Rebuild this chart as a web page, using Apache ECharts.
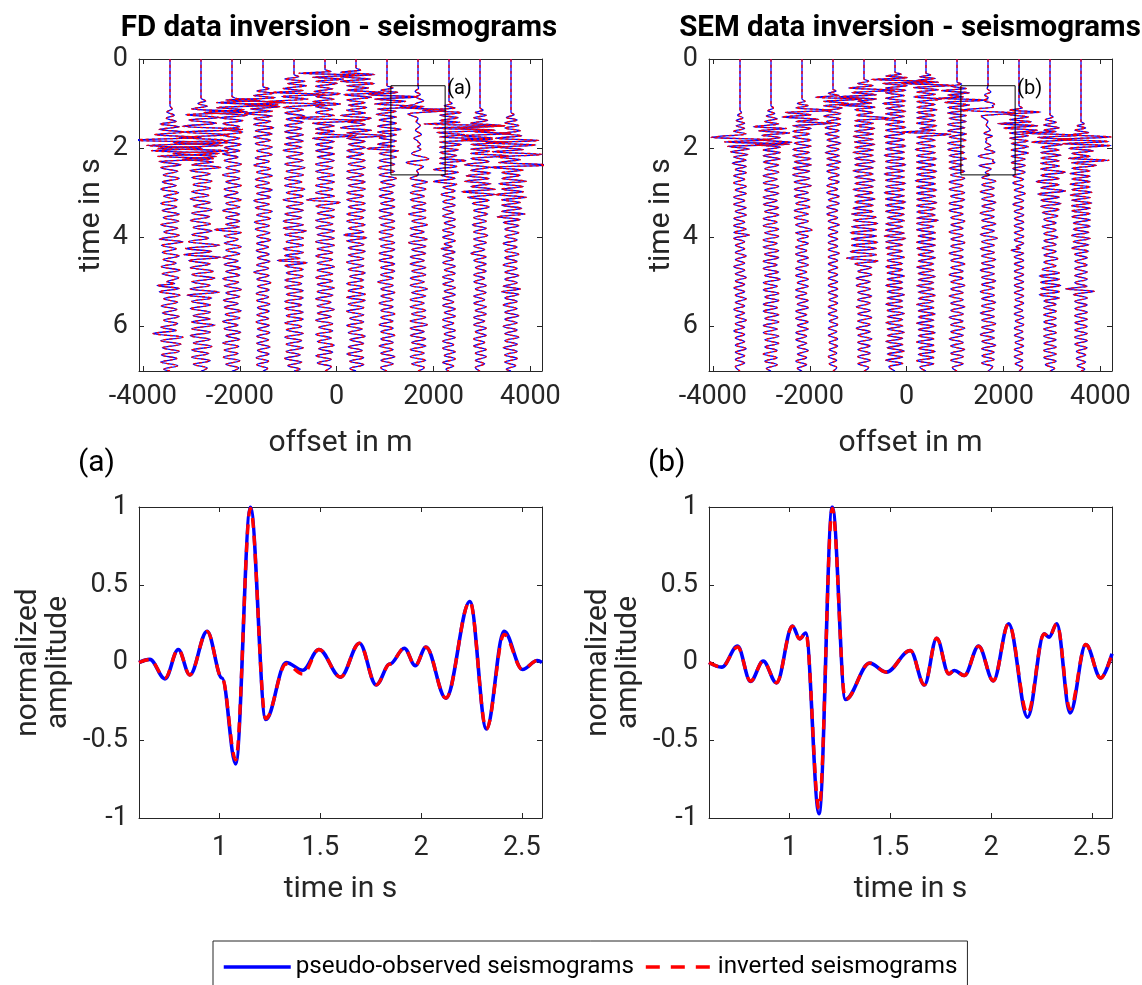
<!DOCTYPE html>
<html>
<head>
<meta charset="utf-8">
<script src="https://cdn.jsdelivr.net/npm/echarts@6/dist/echarts.min.js"></script>
<style>
  html, body { margin: 0; padding: 0; background: #fff; }
  #chart { width: 1142px; height: 985px; }
</style>
</head>
<body>
<div id="chart"></div>
<script>
// Receiver offsets (m) of the twelve traces in each shot gather
const offsets = [-3440, -2800, -2160, -1520, -880, -240, 400, 1040, 1680, 2320, 2960, 3600];
const offsetTicks = [-4000, -2000, 0, 2000, 4000];
const timeTicks = [0, 2, 4, 6];
const zoomTimeTicks = [1, 1.5, 2, 2.5];
const ampTicks = [-1, -0.5, 0, 0.5, 1];

// Window around the trace at 1680 m shown enlarged below
const boxOffsets = [1120, 2240];
const boxTimes = [0.6, 2.6];

// Enlarged trace (a), FD data: [time s, normalised amplitude] at peaks and troughs
const obsA = [[0.6,0],[0.654,0.02],[0.729,-0.105],[0.795,0.084],[0.852,-0.08],[0.938,0.2],[1.012,-0.1],[1.080,-0.652],[1.153,1.0],[1.229,-0.367],[1.33,0.0],[1.413,-0.05],[1.493,0.084],[1.600,-0.094],[1.694,0.124],[1.777,-0.144],[1.845,-0.01],[1.917,0.092],[1.971,-0.02],[2.024,0.099],[2.123,-0.229],[2.242,0.392],[2.324,-0.427],[2.412,0.2],[2.503,-0.045],[2.577,0.013],[2.6,0.0]];
const invA = [[0.6,0],[0.654,0.02],[0.729,-0.1],[0.795,0.084],[0.852,-0.08],[0.938,0.2],[1.012,-0.1],[1.080,-0.625],[1.153,0.99],[1.229,-0.36],[1.33,-0.01],[1.413,-0.075],[1.493,0.084],[1.600,-0.094],[1.694,0.124],[1.777,-0.144],[1.845,-0.01],[1.917,0.092],[1.971,-0.02],[2.024,0.099],[2.123,-0.229],[2.242,0.392],[2.324,-0.427],[2.412,0.18],[2.503,-0.045],[2.577,0.013],[2.6,0.0]];

// Enlarged trace (b), SEM data
const obsB = [[0.6,0],[0.663,-0.03],[0.742,0.105],[0.806,-0.122],[0.869,0.009],[0.935,-0.131],[1.014,0.234],[1.050,0.152],[1.080,0.19],[1.146,-0.973],[1.212,1.0],[1.277,-0.238],[1.397,-0.004],[1.480,-0.062],[1.599,0.077],[1.669,-0.144],[1.730,0.156],[1.790,-0.073],[1.818,-0.051],[1.867,-0.084],[1.938,0.105],[2.011,-0.118],[2.087,0.249],[2.181,-0.352],[2.263,0.184],[2.288,0.163],[2.326,0.249],[2.392,-0.324],[2.470,0.116],[2.544,-0.10],[2.6,0.056]];
const invB = [[0.6,0],[0.663,-0.03],[0.742,0.1],[0.806,-0.12],[0.869,0.009],[0.935,-0.131],[1.014,0.234],[1.050,0.152],[1.080,0.19],[1.146,-0.94],[1.212,0.99],[1.277,-0.238],[1.397,-0.004],[1.480,-0.062],[1.599,0.077],[1.669,-0.144],[1.730,0.156],[1.790,-0.073],[1.818,-0.051],[1.867,-0.084],[1.938,0.105],[2.011,-0.118],[2.087,0.249],[2.181,-0.33],[2.263,0.184],[2.288,0.163],[2.326,0.249],[2.392,-0.30],[2.470,0.116],[2.544,-0.10],[2.6,0.056]];

// FD gather: [time s, amplitude in trace spacings] at peaks and troughs
const fd1 = [[0,0],[1.05,0],[1.12,0.07],[1.19,-0.1],[1.26,0.14],[1.33,-0.12],[1.40,0.2],[1.46,-0.32],[1.52,0.3],[1.58,-0.35],[1.64,0.45],[1.70,-0.5],[1.76,1.0],[1.82,-1.3],[1.88,1.9],[1.94,-0.75],[2.00,1.05],[2.06,-0.6],[2.12,1.6],[2.18,-0.4],[2.24,1.4],[2.30,-0.35],[2.37,0.35],[2.44,-0.3],[2.52,0.25],[2.60,-0.22],[2.68,0.3],[2.76,-0.25],[2.84,0.2],[2.92,-0.3],[3.00,0.28],[3.08,-0.2],[3.16,0.25],[3.24,-0.3],[3.32,0.22],[3.40,-0.25],[3.48,0.3],[3.56,-0.22],[3.64,0.28],[3.72,-0.3],[3.80,0.25],[3.88,-0.2],[3.96,0.3],[4.04,-0.35],[4.10,0.42],[4.18,-0.28],[4.26,0.2],[4.34,-0.25],[4.42,0.3],[4.50,-0.22],[4.58,0.2],[4.66,-0.28],[4.74,0.32],[4.82,-0.25],[4.91,0.28],[5.00,-0.1],[5.04,0.15],[5.08,-0.42],[5.15,0.3],[5.22,-0.35],[5.30,0.32],[5.38,-0.2],[5.46,0.25],[5.54,-0.28],[5.62,0.22],[5.70,-0.25],[5.78,0.3],[5.86,-0.2],[5.94,0.25],[6.02,-0.3],[6.09,0.2],[6.16,-0.55],[6.24,0.42],[6.32,-0.3],[6.40,0.35],[6.48,-0.25],[6.56,0.3],[6.64,-0.28],[6.72,0.22],[6.80,-0.3],[6.88,0.25],[6.96,-0.2],[7.0,0]];
const fd2 = [[0,0],[0.88,0],[0.94,0.15],[1.00,-0.1],[1.06,0.2],[1.12,-0.3],[1.19,1.5],[1.25,-0.5],[1.31,0.6],[1.37,-0.4],[1.44,0.5],[1.51,-0.6],[1.58,1.34],[1.64,-0.6],[1.70,0.9],[1.76,-0.7],[1.82,0.8],[1.88,-0.9],[1.94,0.7],[2.00,-1.4],[2.06,0.9],[2.12,-0.9],[2.19,0.5],[2.25,-0.6],[2.31,0.4],[2.37,-0.3],[2.43,0.65],[2.50,-0.35],[2.58,0.3],[2.66,-0.3],[2.74,0.35],[2.82,-0.25],[2.90,0.3],[2.98,-0.3],[3.06,0.25],[3.14,-0.35],[3.22,0.3],[3.30,-0.25],[3.38,0.35],[3.46,-0.3],[3.54,0.28],[3.62,-0.35],[3.70,0.3],[3.78,-0.25],[3.86,0.35],[3.94,-0.3],[4.02,0.25],[4.10,-0.4],[4.18,0.6],[4.25,-0.5],[4.32,0.35],[4.39,-0.55],[4.45,0.64],[4.52,-0.4],[4.60,0.3],[4.68,-0.35],[4.76,0.4],[4.84,-0.3],[4.92,0.45],[5.00,-0.3],[5.08,0.3],[5.16,-0.35],[5.23,0.6],[5.30,-0.45],[5.36,0.35],[5.44,-0.3],[5.52,0.3],[5.60,-0.35],[5.68,0.3],[5.76,-0.25],[5.83,0.3],[5.90,-0.3],[5.97,0.45],[6.05,-0.3],[6.13,0.3],[6.21,-0.35],[6.29,0.3],[6.37,-0.25],[6.45,0.35],[6.53,-0.3],[6.61,0.25],[6.69,-0.3],[6.77,0.3],[6.85,-0.25],[6.93,0.2],[7.0,0]];
const fd3 = [[0,0],[0.84,0],[0.88,0.1],[0.93,0.9],[0.98,-0.5],[1.03,1.5],[1.09,-0.5],[1.14,0.4],[1.20,-0.9],[1.26,0.5],[1.32,-0.4],[1.38,0.35],[1.45,-0.3],[1.52,0.25],[1.58,-0.3],[1.64,0.35],[1.71,-0.3],[1.78,0.25],[1.85,-0.25],[1.92,0.3],[1.99,-0.25],[2.06,0.25],[2.13,-0.3],[2.20,0.2],[2.28,-0.25],[2.36,0.3],[2.44,-0.2],[2.52,0.25],[2.60,-0.3],[2.68,0.25],[2.76,-0.2],[2.84,0.3],[2.92,-0.25],[3.00,0.2],[3.08,-0.25],[3.16,0.3],[3.24,-0.2],[3.32,0.25],[3.40,-0.3],[3.48,0.25],[3.56,-0.2],[3.64,0.25],[3.71,-0.2],[3.77,0.24],[3.83,-0.57],[3.89,0.3],[3.97,-0.25],[4.05,0.2],[4.13,-0.25],[4.21,0.3],[4.29,-0.2],[4.37,0.25],[4.45,-0.3],[4.53,0.2],[4.61,-0.25],[4.69,0.28],[4.77,-0.2],[4.85,0.25],[4.93,-0.3],[5.01,0.22],[5.09,-0.25],[5.17,0.3],[5.25,-0.2],[5.33,0.25],[5.41,-0.28],[5.49,0.2],[5.57,-0.25],[5.65,0.3],[5.73,-0.22],[5.81,0.25],[5.89,-0.3],[5.97,0.2],[6.05,-0.25],[6.13,0.28],[6.21,-0.2],[6.29,0.25],[6.37,-0.3],[6.45,0.22],[6.53,-0.25],[6.61,0.2],[6.69,-0.28],[6.77,0.25],[6.85,-0.2],[6.93,0.22],[7.0,0]];
const fd4 = [[0,0],[0.62,0],[0.67,0.2],[0.72,-0.2],[0.77,0.35],[0.82,-0.3],[0.87,0.4],[0.92,-1.2],[0.97,0.7],[1.02,-0.6],[1.07,0.55],[1.12,-0.4],[1.17,0.3],[1.22,-0.6],[1.28,0.3],[1.34,-0.3],[1.40,0.25],[1.47,-0.3],[1.54,0.35],[1.61,-0.25],[1.68,0.3],[1.75,-0.3],[1.82,0.25],[1.90,-0.25],[1.98,0.3],[2.06,-0.2],[2.14,0.3],[2.22,-0.25],[2.30,0.2],[2.38,-0.3],[2.46,0.25],[2.54,-0.2],[2.62,0.3],[2.70,-0.25],[2.78,0.2],[2.86,-0.25],[2.94,0.3],[3.02,-0.2],[3.10,0.25],[3.18,-0.3],[3.26,0.2],[3.34,-0.25],[3.42,0.3],[3.50,-0.2],[3.58,0.25],[3.66,-0.28],[3.74,0.2],[3.82,-0.25],[3.90,0.22],[3.98,-0.2],[4.06,0.25],[4.14,-0.2],[4.22,0.18],[4.30,-0.22],[4.38,0.2],[4.46,-0.18],[4.54,0.22],[4.62,-0.2],[4.70,0.18],[4.78,-0.3],[4.86,0.2],[4.94,-0.2],[5.02,0.25],[5.10,-0.18],[5.18,0.2],[5.26,-0.22],[5.34,0.18],[5.42,-0.2],[5.50,0.22],[5.58,-0.18],[5.66,0.2],[5.74,-0.2],[5.82,0.18],[5.90,-0.22],[5.98,0.2],[6.06,-0.18],[6.14,0.22],[6.22,-0.2],[6.30,0.18],[6.38,-0.2],[6.46,0.22],[6.54,-0.18],[6.62,0.2],[6.70,-0.22],[6.78,0.18],[6.86,-0.2],[6.94,0.15],[7.0,0]];
const fd5 = [[0,0],[0.35,0],[0.40,0.15],[0.45,-0.3],[0.50,0.35],[0.55,-0.2],[0.60,0.4],[0.66,-0.35],[0.71,0.3],[0.75,-0.7],[0.79,1.0],[0.84,-0.4],[0.90,0.45],[0.96,-0.9],[1.02,1.0],[1.08,-0.35],[1.14,0.3],[1.21,-0.3],[1.28,0.35],[1.35,-0.25],[1.42,0.3],[1.49,-0.3],[1.56,0.25],[1.63,-0.3],[1.70,0.3],[1.77,-0.25],[1.84,0.3],[1.91,-0.3],[1.98,0.25],[2.05,-0.35],[2.12,0.3],[2.20,-0.25],[2.28,0.3],[2.36,-0.3],[2.44,0.35],[2.52,-0.25],[2.60,0.3],[2.68,-0.3],[2.76,0.25],[2.84,-0.3],[2.92,0.35],[3.00,-0.25],[3.08,0.3],[3.16,-0.35],[3.24,0.3],[3.32,-0.25],[3.40,0.3],[3.48,-0.3],[3.56,0.25],[3.64,-0.35],[3.72,0.3],[3.80,-0.35],[3.86,0.4],[3.94,-0.3],[4.02,0.3],[4.10,-0.25],[4.18,0.3],[4.26,-0.35],[4.34,0.3],[4.41,-0.3],[4.47,0.2],[4.52,-0.54],[4.57,0.43],[4.64,-0.3],[4.72,0.3],[4.80,-0.25],[4.88,0.3],[4.96,-0.3],[5.04,0.25],[5.12,-0.3],[5.20,0.3],[5.28,-0.25],[5.36,0.3],[5.44,-0.3],[5.52,0.25],[5.60,-0.3],[5.68,0.3],[5.76,-0.25],[5.84,0.3],[5.92,-0.3],[6.00,0.25],[6.08,-0.25],[6.16,0.3],[6.24,-0.3],[6.32,0.25],[6.40,-0.25],[6.48,0.3],[6.56,-0.25],[6.64,0.2],[6.72,-0.3],[6.80,0.25],[6.88,-0.2],[6.96,0.2],[7.0,0]];
const fd6 = [[0,0],[0.24,0],[0.28,0.2],[0.32,-0.84],[0.36,1.1],[0.41,-0.4],[0.45,0.6],[0.50,-0.3],[0.55,0.4],[0.61,-0.3],[0.67,0.25],[0.73,-0.35],[0.78,0.5],[0.84,-0.3],[0.90,0.3],[0.96,-0.4],[1.01,0.5],[1.07,-0.3],[1.13,0.25],[1.20,-0.3],[1.27,0.3],[1.33,-0.95],[1.38,1.3],[1.44,-0.4],[1.50,0.3],[1.57,-0.3],[1.62,0.3],[1.67,-0.3],[1.72,1.0],[1.78,-0.4],[1.85,0.3],[1.92,-0.3],[1.99,0.25],[2.06,-0.3],[2.13,0.3],[2.20,-0.25],[2.28,0.3],[2.36,-0.3],[2.44,0.25],[2.52,-0.3],[2.60,0.3],[2.68,-0.25],[2.76,0.3],[2.84,-0.3],[2.92,0.25],[3.00,-0.3],[3.08,0.3],[3.16,-0.6],[3.22,0.5],[3.30,-0.3],[3.38,0.3],[3.46,-0.25],[3.54,0.3],[3.62,-0.3],[3.70,0.25],[3.78,-0.3],[3.86,0.3],[3.94,-0.25],[4.02,0.3],[4.10,-0.3],[4.18,0.3],[4.26,-0.25],[4.34,0.25],[4.42,-0.3],[4.50,0.25],[4.58,-0.25],[4.66,0.3],[4.74,-0.25],[4.82,0.25],[4.90,-0.3],[4.98,0.25],[5.06,-0.25],[5.14,0.3],[5.22,-0.25],[5.30,0.25],[5.38,-0.3],[5.46,0.2],[5.54,-0.25],[5.62,0.3],[5.70,-0.25],[5.78,0.2],[5.86,-0.3],[5.94,0.25],[6.02,-0.2],[6.10,0.25],[6.18,-0.3],[6.26,0.2],[6.34,-0.25],[6.42,0.3],[6.50,-0.2],[6.58,0.25],[6.66,-0.3],[6.74,0.2],[6.82,-0.25],[6.90,0.2],[7.0,0]];
const fd7 = [[0,0],[0.20,0],[0.25,0.15],[0.30,-0.5],[0.35,0.6],[0.40,-0.5],[0.45,0.46],[0.50,-0.5],[0.55,0.6],[0.60,-0.3],[0.65,0.4],[0.70,-0.3],[0.75,0.9],[0.80,-0.4],[0.86,0.5],[0.92,-0.3],[0.98,0.3],[1.04,-0.25],[1.09,0.35],[1.15,-0.3],[1.21,0.3],[1.27,-0.5],[1.33,0.5],[1.40,-0.3],[1.47,0.3],[1.54,-0.5],[1.60,0.5],[1.66,-0.3],[1.72,0.95],[1.78,-0.3],[1.85,0.3],[1.92,-0.25],[1.99,0.3],[2.06,-0.3],[2.13,0.25],[2.20,-0.3],[2.28,0.3],[2.36,-0.25],[2.44,0.3],[2.52,-0.3],[2.60,0.25],[2.68,-0.3],[2.76,0.3],[2.84,-0.25],[2.92,0.3],[3.00,-0.3],[3.08,0.25],[3.16,-0.3],[3.24,0.3],[3.32,-0.25],[3.40,0.3],[3.48,-0.3],[3.56,0.25],[3.64,-0.3],[3.72,0.3],[3.80,-0.25],[3.88,0.25],[3.95,-0.4],[4.01,0.35],[4.08,-0.3],[4.16,0.25],[4.24,-0.25],[4.32,0.3],[4.40,-0.25],[4.48,0.25],[4.56,-0.3],[4.64,0.25],[4.72,-0.25],[4.80,0.3],[4.88,-0.2],[4.96,0.25],[5.04,-0.3],[5.12,0.25],[5.20,-0.25],[5.28,0.3],[5.35,-0.3],[5.42,0.3],[5.50,-0.25],[5.58,0.25],[5.66,-0.3],[5.74,0.25],[5.82,-0.2],[5.90,0.25],[5.98,-0.3],[6.06,0.2],[6.14,-0.25],[6.22,0.3],[6.30,-0.2],[6.38,0.25],[6.46,-0.25],[6.54,0.2],[6.62,-0.3],[6.70,0.25],[6.78,-0.2],[6.86,0.25],[6.94,-0.2],[7.0,0]];
const fd8 = [[0,0],[0.60,0],[0.65,0.2],[0.70,-0.2],[0.75,0.35],[0.80,-0.6],[0.85,1.0],[0.90,-0.4],[0.95,0.6],[1.01,-0.4],[1.07,1.2],[1.12,-0.3],[1.18,0.3],[1.24,-0.35],[1.30,0.3],[1.37,-0.25],[1.44,0.3],[1.51,-0.3],[1.58,0.45],[1.64,-0.3],[1.70,0.3],[1.77,-0.25],[1.84,0.3],[1.91,-0.3],[1.96,0.25],[2.01,-0.65],[2.06,0.37],[2.12,-0.25],[2.20,0.3],[2.28,-0.25],[2.36,0.25],[2.44,-0.3],[2.52,0.25],[2.60,-0.25],[2.68,0.3],[2.76,-0.2],[2.84,0.25],[2.92,-0.25],[3.00,0.2],[3.08,-0.25],[3.16,0.25],[3.24,-0.2],[3.32,0.25],[3.40,-0.25],[3.48,0.2],[3.56,-0.25],[3.64,0.25],[3.72,-0.2],[3.80,0.25],[3.88,-0.25],[3.96,0.2],[4.04,-0.25],[4.12,0.25],[4.20,-0.2],[4.28,0.25],[4.36,-0.25],[4.44,0.2],[4.52,-0.25],[4.60,0.25],[4.68,-0.2],[4.76,0.25],[4.84,-0.2],[4.92,0.2],[5.00,-0.3],[5.08,0.2],[5.16,-0.2],[5.24,0.25],[5.32,-0.2],[5.40,0.2],[5.48,-0.25],[5.56,0.2],[5.64,-0.2],[5.72,0.25],[5.80,-0.2],[5.88,0.2],[5.96,-0.25],[6.04,0.2],[6.12,-0.2],[6.20,0.25],[6.28,-0.2],[6.36,0.2],[6.44,-0.25],[6.52,0.2],[6.60,-0.2],[6.68,0.25],[6.76,-0.2],[6.84,0.2],[6.92,-0.2],[7.0,0]];
const fd9Tail = [[2.68,-0.25],[2.76,0.3],[2.84,-0.2],[2.92,0.25],[3.00,-0.25],[3.08,0.2],[3.16,-0.25],[3.24,0.25],[3.32,-0.2],[3.40,0.25],[3.48,-0.3],[3.56,0.25],[3.64,-0.2],[3.72,0.3],[3.80,-0.25],[3.88,0.2],[3.96,-0.25],[4.04,0.3],[4.12,-0.3],[4.20,0.25],[4.28,-0.2],[4.36,0.25],[4.44,-0.25],[4.52,0.2],[4.60,-0.25],[4.68,0.25],[4.76,-0.2],[4.84,0.25],[4.92,-0.25],[5.00,0.2],[5.08,-0.25],[5.16,0.3],[5.24,-0.2],[5.32,0.25],[5.40,-0.25],[5.48,0.2],[5.56,-0.25],[5.64,0.25],[5.72,-0.2],[5.80,0.25],[5.88,-0.25],[5.96,0.3],[6.04,-0.25],[6.12,0.2],[6.20,-0.25],[6.28,0.25],[6.36,-0.2],[6.44,0.25],[6.52,-0.25],[6.60,0.2],[6.68,-0.25],[6.76,0.25],[6.84,-0.2],[6.92,0.2],[7.0,0]];
const fd10 = [[0,0],[0.95,0],[1.00,0.1],[1.05,-0.15],[1.10,0.2],[1.15,-0.85],[1.20,0.4],[1.26,-0.3],[1.32,0.3],[1.38,-0.3],[1.42,0.35],[1.46,-0.8],[1.50,1.8],[1.55,-0.5],[1.60,1.5],[1.65,-0.4],[1.70,0.5],[1.75,-0.3],[1.80,1.4],[1.86,-0.3],[1.92,0.4],[1.98,-0.3],[2.04,0.3],[2.10,-0.3],[2.17,0.25],[2.23,-0.3],[2.28,0.55],[2.34,-0.3],[2.41,0.25],[2.48,-0.5],[2.54,0.3],[2.61,-0.25],[2.68,0.2],[2.75,-0.5],[2.81,0.25],[2.88,-0.2],[2.96,0.2],[3.04,-0.25],[3.12,0.2],[3.20,-0.2],[3.28,0.2],[3.36,-0.2],[3.44,0.15],[3.52,-0.2],[3.60,0.2],[3.68,-0.15],[3.76,0.2],[3.84,-0.2],[3.92,0.15],[4.00,-0.2],[4.08,0.2],[4.15,-0.15],[4.21,0.1],[4.26,-0.25],[4.33,0.2],[4.41,-0.2],[4.49,0.15],[4.57,-0.2],[4.65,0.2],[4.73,-0.15],[4.81,0.2],[4.89,-0.2],[4.97,0.15],[5.05,-0.2],[5.13,0.2],[5.21,-0.15],[5.29,0.2],[5.37,-0.2],[5.45,0.15],[5.53,-0.2],[5.61,0.2],[5.69,-0.15],[5.77,0.2],[5.85,-0.2],[5.93,0.15],[6.01,-0.2],[6.09,0.2],[6.17,-0.15],[6.25,0.2],[6.33,-0.2],[6.41,0.15],[6.49,-0.2],[6.57,0.2],[6.65,-0.15],[6.73,0.2],[6.81,-0.2],[6.89,0.15],[6.96,-0.1],[7.0,0]];
const fd11 = [[0,0],[1.10,0],[1.15,0.1],[1.20,-0.15],[1.26,0.2],[1.32,-0.2],[1.38,0.25],[1.44,-0.3],[1.50,0.8],[1.55,-0.7],[1.60,0.4],[1.63,-0.2],[1.67,1.0],[1.72,-0.6],[1.77,0.4],[1.82,-0.6],[1.87,0.9],[1.92,-0.3],[1.97,0.8],[2.02,-0.3],[2.07,0.3],[2.12,-0.3],[2.17,0.9],[2.23,-0.3],[2.30,0.3],[2.37,-0.5],[2.43,0.3],[2.50,-0.3],[2.56,0.35],[2.62,-0.45],[2.68,0.3],[2.74,-0.5],[2.80,0.35],[2.86,-0.3],[2.92,0.5],[2.98,-0.6],[3.04,0.5],[3.10,-0.4],[3.17,0.3],[3.24,-0.25],[3.32,0.3],[3.40,-0.2],[3.48,0.25],[3.56,-0.2],[3.64,0.2],[3.72,-0.25],[3.80,0.2],[3.88,-0.2],[3.96,0.25],[4.04,-0.2],[4.12,0.2],[4.20,-0.2],[4.28,0.15],[4.36,-0.3],[4.44,0.2],[4.52,-0.2],[4.60,0.2],[4.68,-0.15],[4.76,0.2],[4.84,-0.2],[4.92,0.15],[5.00,-0.2],[5.08,0.2],[5.16,-0.15],[5.24,0.2],[5.32,-0.2],[5.40,0.15],[5.48,-0.2],[5.56,0.2],[5.64,-0.15],[5.72,0.2],[5.80,-0.2],[5.88,0.15],[5.96,-0.2],[6.04,0.2],[6.12,-0.15],[6.20,0.2],[6.28,-0.2],[6.36,0.15],[6.44,-0.2],[6.52,0.2],[6.60,-0.15],[6.68,0.2],[6.76,-0.15],[6.84,0.15],[6.92,-0.15],[7.0,0]];
const fd12 = [[0,0],[1.20,0],[1.25,0.1],[1.31,-0.15],[1.37,0.2],[1.43,-0.2],[1.49,0.25],[1.55,-0.2],[1.61,0.3],[1.67,-0.3],[1.72,0.35],[1.78,-0.5],[1.83,0.9],[1.88,-0.8],[1.93,0.8],[1.98,-0.4],[2.03,0.4],[2.08,-0.6],[2.14,1.0],[2.20,-0.4],[2.26,0.3],[2.32,-0.4],[2.38,1.3],[2.43,-0.7],[2.49,0.4],[2.55,-0.3],[2.61,0.3],[2.68,-0.3],[2.74,0.5],[2.80,-0.4],[2.86,0.4],[2.92,-0.3],[2.98,0.4],[3.04,-0.5],[3.10,0.5],[3.16,-0.3],[3.22,0.3],[3.28,-0.3],[3.35,0.35],[3.42,-0.3],[3.48,0.45],[3.54,-0.45],[3.60,0.3],[3.67,-0.25],[3.74,0.25],[3.82,-0.2],[3.90,0.25],[3.98,-0.2],[4.06,0.2],[4.14,-0.25],[4.22,0.2],[4.30,-0.2],[4.38,0.25],[4.46,-0.2],[4.54,0.2],[4.62,-0.25],[4.70,0.2],[4.78,-0.2],[4.86,0.25],[4.94,-0.2],[5.02,0.2],[5.10,-0.25],[5.16,0.3],[5.22,-0.3],[5.28,0.25],[5.36,-0.2],[5.44,0.2],[5.52,-0.25],[5.60,0.2],[5.68,-0.2],[5.76,0.25],[5.84,-0.2],[5.92,0.2],[6.00,-0.25],[6.08,0.2],[6.16,-0.2],[6.24,0.25],[6.32,-0.2],[6.40,0.2],[6.48,-0.25],[6.56,0.2],[6.64,-0.2],[6.72,0.2],[6.80,-0.2],[6.88,0.15],[6.96,-0.15],[7.0,0]];

// SEM gather
const sem1 = [[0,0],[1.15,0],[1.20,0.05],[1.26,-0.08],[1.32,0.1],[1.38,-0.12],[1.44,0.15],[1.50,-0.12],[1.56,0.15],[1.62,-0.2],[1.68,0.2],[1.76,-0.93],[1.81,1.0],[1.86,-0.5],[1.91,1.6],[1.96,-0.4],[2.02,0.3],[2.08,-0.3],[2.14,0.25],[2.20,-0.2],[2.27,0.2],[2.34,-0.25],[2.41,0.2],[2.48,-0.15],[2.55,0.2],[2.62,-0.2],[2.70,0.15],[2.78,-0.2],[2.86,0.2],[2.94,-0.15],[3.02,0.2],[3.10,-0.2],[3.18,0.15],[3.26,-0.2],[3.34,0.2],[3.42,-0.15],[3.50,0.2],[3.58,-0.2],[3.66,0.15],[3.74,-0.2],[3.82,0.2],[3.89,-0.2],[3.95,0.3],[4.02,-0.2],[4.10,0.15],[4.18,-0.15],[4.26,0.15],[4.34,-0.15],[4.42,0.2],[4.50,-0.15],[4.58,0.15],[4.66,-0.2],[4.74,0.15],[4.82,-0.15],[4.90,0.2],[4.98,-0.15],[5.06,0.15],[5.14,-0.2],[5.22,0.15],[5.30,-0.15],[5.38,0.2],[5.46,-0.15],[5.54,0.15],[5.62,-0.2],[5.70,0.15],[5.78,-0.15],[5.86,0.2],[5.94,-0.15],[6.02,0.15],[6.10,-0.2],[6.18,0.15],[6.26,-0.15],[6.34,0.15],[6.42,-0.15],[6.50,0.2],[6.58,-0.15],[6.66,0.15],[6.74,-0.15],[6.82,0.15],[6.90,-0.15],[7.0,0]];
const sem2 = [[0,0],[1.05,0],[1.10,0.08],[1.16,-0.1],[1.22,0.12],[1.28,-0.15],[1.34,0.2],[1.40,-0.2],[1.46,0.25],[1.52,-0.57],[1.56,0.5],[1.61,-0.4],[1.66,0.6],[1.71,-0.3],[1.76,0.3],[1.82,-0.3],[1.87,0.67],[1.92,-0.5],[1.98,0.3],[2.04,-0.25],[2.10,0.3],[2.17,-0.25],[2.24,0.3],[2.31,-0.25],[2.38,0.25],[2.46,-0.2],[2.54,0.25],[2.62,-0.25],[2.70,0.2],[2.78,-0.25],[2.86,0.25],[2.94,-0.2],[3.02,0.25],[3.10,-0.25],[3.18,0.2],[3.26,-0.25],[3.34,0.25],[3.42,-0.2],[3.50,0.25],[3.58,-0.25],[3.66,0.2],[3.74,-0.25],[3.82,0.25],[3.90,-0.2],[3.98,0.25],[4.06,-0.25],[4.14,0.2],[4.22,-0.25],[4.30,0.25],[4.38,-0.2],[4.46,0.25],[4.54,-0.25],[4.62,0.2],[4.70,-0.25],[4.78,0.25],[4.86,-0.2],[4.94,0.3],[5.02,-0.25],[5.10,0.2],[5.18,-0.25],[5.26,0.25],[5.34,-0.2],[5.42,0.25],[5.50,-0.25],[5.58,0.2],[5.66,-0.25],[5.74,0.25],[5.82,-0.2],[5.90,0.25],[5.98,-0.25],[6.06,0.2],[6.14,-0.25],[6.22,0.25],[6.30,-0.2],[6.38,0.25],[6.46,-0.2],[6.54,0.2],[6.62,-0.25],[6.70,0.2],[6.78,-0.2],[6.86,0.2],[6.94,-0.15],[7.0,0]];
const sem3 = [[0,0],[0.90,0],[0.95,0.1],[1.00,-0.15],[1.05,0.2],[1.10,-0.2],[1.15,0.97],[1.20,-0.54],[1.25,0.3],[1.30,-0.65],[1.35,0.54],[1.40,-0.2],[1.44,0.97],[1.50,-0.3],[1.56,0.3],[1.62,-0.3],[1.68,0.25],[1.75,-0.3],[1.82,0.3],[1.89,-0.25],[1.96,0.3],[2.03,-0.3],[2.10,0.25],[2.17,-0.3],[2.24,0.3],[2.31,-0.25],[2.38,0.3],[2.45,-0.3],[2.52,0.25],[2.60,-0.3],[2.68,0.25],[2.76,-0.25],[2.84,0.3],[2.92,-0.25],[3.00,0.2],[3.08,-0.25],[3.16,0.25],[3.24,-0.2],[3.32,0.25],[3.40,-0.25],[3.48,0.2],[3.56,-0.25],[3.64,0.2],[3.72,-0.2],[3.84,0.32],[3.90,-0.2],[3.98,0.2],[4.06,-0.15],[4.14,0.2],[4.22,-0.2],[4.30,0.15],[4.38,-0.2],[4.46,0.2],[4.54,-0.15],[4.62,0.2],[4.70,-0.2],[4.78,0.15],[4.86,-0.2],[4.94,0.2],[5.02,-0.15],[5.10,0.2],[5.18,-0.2],[5.26,0.15],[5.34,-0.2],[5.42,0.2],[5.50,-0.15],[5.58,0.2],[5.66,-0.2],[5.74,0.15],[5.82,-0.2],[5.90,0.2],[5.98,-0.15],[6.06,0.2],[6.14,-0.2],[6.22,0.15],[6.30,-0.2],[6.38,0.15],[6.46,-0.15],[6.54,0.2],[6.62,-0.15],[6.70,0.15],[6.78,-0.2],[6.86,0.15],[6.94,-0.15],[7.0,0]];
const sem4 = [[0,0],[0.68,0],[0.72,0.1],[0.77,-0.15],[0.82,0.2],[0.86,-0.57],[0.90,0.94],[0.95,-0.3],[1.00,0.5],[1.05,-0.3],[1.10,0.3],[1.16,-0.25],[1.22,0.25],[1.28,-0.3],[1.34,0.25],[1.40,-0.2],[1.47,0.25],[1.54,-0.25],[1.61,0.2],[1.68,-0.25],[1.75,0.2],[1.82,-0.2],[1.89,0.25],[1.96,-0.2],[2.03,0.2],[2.10,-0.25],[2.17,0.2],[2.24,-0.2],[2.31,0.25],[2.38,-0.2],[2.45,0.2],[2.52,-0.2],[2.60,0.2],[2.68,-0.15],[2.76,0.2],[2.84,-0.2],[2.92,0.15],[3.00,-0.2],[3.08,0.2],[3.16,-0.15],[3.24,0.2],[3.32,-0.2],[3.40,0.15],[3.48,-0.2],[3.56,0.15],[3.64,-0.15],[3.72,0.2],[3.80,-0.15],[3.88,0.15],[3.96,-0.15],[4.04,0.15],[4.12,-0.15],[4.20,0.15],[4.28,-0.15],[4.36,0.2],[4.44,-0.15],[4.52,0.15],[4.60,-0.15],[4.68,0.15],[4.76,-0.15],[4.84,0.15],[4.92,-0.15],[5.00,0.15],[5.08,-0.15],[5.16,0.15],[5.24,-0.15],[5.32,0.15],[5.40,-0.12],[5.48,0.15],[5.56,-0.15],[5.64,0.12],[5.72,-0.15],[5.80,0.15],[5.88,-0.12],[5.96,0.15],[6.04,-0.15],[6.12,0.12],[6.20,-0.15],[6.28,0.15],[6.36,-0.12],[6.44,0.15],[6.52,-0.12],[6.60,0.12],[6.68,-0.15],[6.76,0.12],[6.84,-0.12],[6.92,0.12],[7.0,0]];
const sem5 = [[0,0],[0.45,0],[0.50,0.15],[0.55,-0.2],[0.60,0.3],[0.65,-0.5],[0.70,1.0],[0.75,-0.4],[0.80,0.4],[0.85,-0.8],[0.90,0.4],[0.95,-0.2],[0.99,0.25],[1.03,-0.8],[1.08,0.35],[1.14,-0.3],[1.20,0.3],[1.26,-0.25],[1.33,0.8],[1.38,-0.3],[1.44,0.3],[1.50,-0.3],[1.56,0.35],[1.62,-0.3],[1.68,0.3],[1.74,-0.35],[1.80,0.3],[1.86,-0.3],[1.92,0.35],[1.98,-0.3],[2.04,0.3],[2.10,-0.35],[2.16,0.3],[2.23,-0.3],[2.30,0.35],[2.37,-0.3],[2.44,0.3],[2.51,-0.35],[2.58,0.3],[2.65,-0.3],[2.72,0.35],[2.79,-0.3],[2.86,0.3],[2.93,-0.35],[3.00,0.3],[3.07,-0.3],[3.14,0.35],[3.21,-0.3],[3.28,0.3],[3.35,-0.35],[3.42,0.3],[3.48,-0.4],[3.55,0.4],[3.62,-0.35],[3.69,0.45],[3.76,-0.4],[3.83,0.4],[3.90,-0.45],[3.97,0.4],[4.04,-0.4],[4.11,0.45],[4.18,-0.4],[4.25,0.4],[4.32,-0.45],[4.39,0.4],[4.47,-0.56],[4.53,0.46],[4.60,-0.3],[4.68,0.25],[4.76,-0.2],[4.84,0.25],[4.92,-0.25],[5.00,0.2],[5.08,-0.25],[5.16,0.2],[5.24,-0.2],[5.32,0.25],[5.40,-0.2],[5.48,0.2],[5.56,-0.25],[5.64,0.2],[5.72,-0.2],[5.80,0.25],[5.88,-0.2],[5.96,0.2],[6.04,-0.25],[6.12,0.2],[6.20,-0.2],[6.28,0.25],[6.36,-0.2],[6.44,0.2],[6.52,-0.2],[6.60,0.2],[6.68,-0.2],[6.76,0.2],[6.84,-0.2],[6.92,0.15],[7.0,0]];
const sem6 = [[0,0],[0.30,0],[0.34,0.2],[0.38,-0.3],[0.42,0.4],[0.46,-0.77],[0.50,1.05],[0.55,-0.4],[0.60,0.4],[0.65,-0.3],[0.70,0.35],[0.76,-0.3],[0.82,0.3],[0.88,-0.3],[0.94,0.35],[1.00,-0.4],[1.05,0.3],[1.11,-0.3],[1.17,0.35],[1.23,-0.3],[1.29,0.3],[1.35,-0.35],[1.41,0.3],[1.47,-0.3],[1.53,0.35],[1.60,-0.3],[1.67,0.3],[1.74,-0.35],[1.81,0.3],[1.88,-0.3],[1.95,0.35],[2.02,-0.3],[2.09,0.3],[2.16,-0.35],[2.23,0.3],[2.30,-0.3],[2.37,0.35],[2.44,-0.3],[2.51,0.3],[2.58,-0.35],[2.65,0.3],[2.72,-0.3],[2.79,0.35],[2.86,-0.3],[2.93,0.3],[3.00,-0.35],[3.07,0.3],[3.14,-0.3],[3.21,0.35],[3.28,-0.3],[3.35,0.3],[3.42,-0.3],[3.49,0.3],[3.56,-0.25],[3.63,0.3],[3.70,-0.3],[3.77,0.25],[3.84,-0.3],[3.91,0.3],[3.97,-0.35],[4.03,0.35],[4.10,-0.3],[4.17,0.25],[4.24,-0.3],[4.31,0.25],[4.38,-0.25],[4.45,0.3],[4.52,-0.25],[4.59,0.25],[4.66,-0.3],[4.73,0.25],[4.80,-0.25],[4.87,0.3],[4.94,-0.25],[5.01,0.25],[5.08,-0.3],[5.15,0.25],[5.22,-0.25],[5.29,0.3],[5.36,-0.25],[5.43,0.25],[5.50,-0.3],[5.57,0.25],[5.64,-0.25],[5.71,0.3],[5.78,-0.25],[5.85,0.25],[5.92,-0.3],[5.99,0.25],[6.06,-0.25],[6.13,0.3],[6.20,-0.25],[6.27,0.25],[6.34,-0.3],[6.41,0.25],[6.48,-0.25],[6.55,0.3],[6.62,-0.25],[6.69,0.25],[6.76,-0.3],[6.83,0.25],[6.90,-0.2],[7.0,0]];
const sem7 = [[0,0],[0.32,0],[0.36,0.15],[0.40,-0.2],[0.44,0.3],[0.48,-0.3],[0.52,0.4],[0.55,-0.8],[0.59,0.9],[0.64,-0.4],[0.69,0.4],[0.74,-0.3],[0.79,0.3],[0.85,-0.4],[0.90,0.5],[0.96,-0.3],[1.02,0.3],[1.08,-0.3],[1.14,0.35],[1.20,-0.3],[1.26,0.3],[1.32,-0.3],[1.38,0.3],[1.44,-0.3],[1.50,0.35],[1.56,-0.2],[1.60,0.3],[1.64,-0.8],[1.69,0.8],[1.75,-0.3],[1.82,0.3],[1.89,-0.3],[1.96,0.3],[2.03,-0.35],[2.10,0.3],[2.17,-0.3],[2.24,0.35],[2.31,-0.3],[2.38,0.3],[2.45,-0.3],[2.52,0.35],[2.59,-0.3],[2.66,0.3],[2.73,-0.35],[2.80,0.3],[2.87,-0.3],[2.94,0.35],[3.01,-0.3],[3.08,0.3],[3.15,-0.3],[3.22,0.35],[3.29,-0.3],[3.36,0.3],[3.43,-0.3],[3.50,0.3],[3.57,-0.3],[3.62,0.4],[3.69,-0.3],[3.76,0.25],[3.83,-0.3],[3.90,0.3],[3.97,-0.25],[4.04,0.3],[4.11,-0.3],[4.18,0.3],[4.25,-0.3],[4.32,0.25],[4.39,-0.25],[4.46,0.3],[4.53,-0.25],[4.60,0.25],[4.67,-0.3],[4.74,0.25],[4.81,-0.25],[4.88,0.3],[4.95,-0.25],[5.02,0.25],[5.09,-0.3],[5.16,0.25],[5.23,-0.25],[5.30,0.3],[5.37,-0.25],[5.44,0.25],[5.51,-0.3],[5.58,0.25],[5.65,-0.25],[5.72,0.3],[5.79,-0.25],[5.86,0.25],[5.93,-0.3],[6.00,0.25],[6.07,-0.25],[6.14,0.3],[6.21,-0.25],[6.28,0.25],[6.35,-0.3],[6.42,0.25],[6.49,-0.25],[6.56,0.3],[6.63,-0.25],[6.70,0.25],[6.77,-0.3],[6.84,0.25],[6.91,-0.2],[7.0,0]];
const sem8 = [[0,0],[0.52,0],[0.56,0.15],[0.61,-0.2],[0.66,0.3],[0.71,-0.5],[0.76,0.4],[0.81,-0.3],[0.85,0.2],[0.88,-0.6],[0.92,1.0],[0.97,-0.4],[1.03,0.4],[1.09,-0.3],[1.15,0.3],[1.21,-0.3],[1.27,0.3],[1.33,-0.25],[1.40,0.3],[1.47,-0.3],[1.54,0.25],[1.61,-0.3],[1.68,0.3],[1.75,-0.25],[1.82,0.3],[1.89,-0.3],[1.96,0.25],[2.03,-0.3],[2.10,0.25],[2.17,-0.25],[2.24,0.3],[2.31,-0.25],[2.38,0.2],[2.45,-0.25],[2.52,0.25],[2.60,-0.2],[2.68,0.25],[2.76,-0.25],[2.84,0.2],[2.92,-0.25],[3.00,0.25],[3.08,-0.2],[3.16,0.25],[3.24,-0.25],[3.32,0.2],[3.40,-0.25],[3.48,0.2],[3.56,-0.2],[3.64,0.25],[3.72,-0.2],[3.80,0.2],[3.88,-0.25],[3.96,0.2],[4.04,-0.2],[4.12,0.25],[4.20,-0.2],[4.28,0.2],[4.36,-0.25],[4.44,0.2],[4.52,-0.2],[4.60,0.25],[4.68,-0.2],[4.76,0.2],[4.84,-0.25],[4.92,0.2],[5.00,-0.2],[5.08,0.25],[5.16,-0.2],[5.24,0.2],[5.32,-0.25],[5.40,0.2],[5.48,-0.2],[5.56,0.25],[5.64,-0.2],[5.72,0.2],[5.80,-0.25],[5.88,0.2],[5.96,-0.2],[6.04,0.25],[6.12,-0.2],[6.20,0.2],[6.28,-0.25],[6.36,0.2],[6.44,-0.2],[6.52,0.25],[6.60,-0.2],[6.68,0.2],[6.76,-0.2],[6.84,0.2],[6.92,-0.15],[7.0,0]];
const sem9Tail = [[2.66,-0.2],[2.74,0.25],[2.82,-0.2],[2.90,0.2],[2.98,-0.25],[3.06,0.2],[3.14,-0.2],[3.22,0.25],[3.30,-0.2],[3.38,0.2],[3.46,-0.25],[3.54,0.2],[3.62,-0.2],[3.70,0.25],[3.78,-0.2],[3.86,0.2],[3.94,-0.25],[4.02,0.3],[4.10,-0.2],[4.18,0.2],[4.26,-0.25],[4.34,0.2],[4.42,-0.2],[4.50,0.25],[4.58,-0.2],[4.66,0.2],[4.74,-0.25],[4.82,0.2],[4.90,-0.2],[4.98,0.25],[5.06,-0.2],[5.14,0.2],[5.22,-0.25],[5.30,0.2],[5.38,-0.2],[5.46,0.25],[5.54,-0.2],[5.62,0.2],[5.70,-0.25],[5.78,0.2],[5.86,-0.2],[5.94,0.25],[6.02,-0.2],[6.10,0.2],[6.18,-0.25],[6.26,0.2],[6.34,-0.2],[6.42,0.25],[6.50,-0.2],[6.58,0.2],[6.66,-0.2],[6.74,0.2],[6.82,-0.2],[6.90,0.15],[7.0,0]];
const sem10 = [[0,0],[1.05,0],[1.10,0.1],[1.15,-0.3],[1.19,0.7],[1.24,-0.4],[1.30,0.3],[1.36,-0.3],[1.41,0.4],[1.45,-0.68],[1.50,0.6],[1.55,-0.5],[1.60,0.6],[1.66,-0.3],[1.72,0.3],[1.78,-0.3],[1.84,0.3],[1.90,-0.25],[1.97,0.3],[2.04,-0.25],[2.11,0.3],[2.18,-0.25],[2.25,0.2],[2.32,-0.25],[2.39,0.2],[2.46,-0.2],[2.54,0.2],[2.62,-0.2],[2.70,0.15],[2.78,-0.2],[2.86,0.15],[2.94,-0.15],[3.02,0.2],[3.10,-0.15],[3.18,0.15],[3.26,-0.2],[3.34,0.15],[3.42,-0.15],[3.50,0.15],[3.58,-0.15],[3.66,0.15],[3.74,-0.15],[3.82,0.15],[3.90,-0.15],[3.98,0.15],[4.06,-0.15],[4.14,0.15],[4.21,-0.1],[4.25,0.05],[4.29,-0.25],[4.36,0.15],[4.44,-0.15],[4.52,0.15],[4.60,-0.15],[4.68,0.15],[4.76,-0.15],[4.84,0.15],[4.92,-0.15],[5.00,0.15],[5.08,-0.15],[5.16,0.15],[5.24,-0.15],[5.32,0.15],[5.40,-0.12],[5.48,0.15],[5.56,-0.15],[5.64,0.12],[5.72,-0.15],[5.80,0.15],[5.88,-0.12],[5.96,0.15],[6.04,-0.15],[6.12,0.12],[6.20,-0.15],[6.28,0.15],[6.36,-0.12],[6.44,0.15],[6.52,-0.15],[6.60,0.12],[6.68,-0.15],[6.76,0.12],[6.84,-0.12],[6.92,0.12],[7.0,0]];
const sem11 = [[0,0],[1.25,0],[1.30,0.1],[1.36,-0.15],[1.42,0.2],[1.48,-0.2],[1.54,0.3],[1.60,-0.2],[1.63,0.2],[1.66,-0.9],[1.71,1.0],[1.76,-0.4],[1.81,0.7],[1.86,-0.6],[1.92,0.4],[1.98,-0.3],[2.04,0.3],[2.10,-0.3],[2.16,0.35],[2.22,-0.3],[2.28,0.3],[2.34,-0.3],[2.40,0.3],[2.47,-0.3],[2.54,0.5],[2.61,-0.3],[2.68,0.3],[2.75,-0.45],[2.82,0.3],[2.89,-0.3],[2.96,0.5],[3.03,-0.4],[3.10,0.3],[3.17,-0.3],[3.24,0.35],[3.31,-0.3],[3.38,0.3],[3.45,-0.25],[3.52,0.25],[3.60,-0.2],[3.68,0.2],[3.76,-0.25],[3.84,0.2],[3.92,-0.2],[4.00,0.25],[4.08,-0.2],[4.16,0.2],[4.24,-0.25],[4.32,0.2],[4.40,-0.2],[4.48,0.25],[4.56,-0.2],[4.64,0.2],[4.72,-0.25],[4.80,0.3],[4.87,-0.35],[4.94,0.3],[5.01,-0.3],[5.08,0.35],[5.15,-0.3],[5.22,0.3],[5.29,-0.35],[5.36,0.3],[5.43,-0.2],[5.50,0.2],[5.58,-0.2],[5.66,0.2],[5.74,-0.2],[5.82,0.2],[5.90,-0.2],[5.98,0.2],[6.06,-0.2],[6.14,0.2],[6.22,-0.2],[6.30,0.2],[6.38,-0.2],[6.46,0.2],[6.54,-0.2],[6.62,0.2],[6.70,-0.2],[6.78,0.2],[6.86,-0.15],[6.94,0.15],[7.0,0]];
const sem12 = [[0,0],[1.40,0],[1.45,0.1],[1.50,-0.12],[1.55,0.15],[1.60,-0.2],[1.65,0.25],[1.70,-0.3],[1.75,0.97],[1.80,-0.75],[1.85,0.9],[1.90,-0.6],[1.94,0.97],[2.00,-0.4],[2.06,0.4],[2.12,-0.3],[2.18,0.3],[2.23,-0.4],[2.27,0.9],[2.33,-0.3],[2.39,0.5],[2.45,-0.3],[2.51,0.3],[2.57,-0.35],[2.63,0.3],[2.69,-0.3],[2.75,0.3],[2.81,-0.35],[2.87,0.3],[2.93,-0.3],[2.99,0.35],[3.05,-0.35],[3.11,0.3],[3.17,-0.3],[3.23,0.35],[3.29,-0.3],[3.35,0.3],[3.41,-0.3],[3.47,0.3],[3.54,-0.3],[3.61,0.3],[3.68,-0.25],[3.75,0.3],[3.82,-0.25],[3.89,0.25],[3.96,-0.3],[4.03,0.3],[4.10,-0.25],[4.17,0.25],[4.24,-0.3],[4.31,0.25],[4.38,-0.2],[4.46,0.2],[4.54,-0.2],[4.62,0.2],[4.70,-0.2],[4.78,0.2],[4.86,-0.2],[4.94,0.2],[5.02,-0.2],[5.10,0.2],[5.16,-0.5],[5.21,0.43],[5.28,-0.25],[5.36,0.2],[5.44,-0.2],[5.52,0.2],[5.60,-0.2],[5.68,0.2],[5.76,-0.2],[5.84,0.2],[5.92,-0.2],[6.00,0.2],[6.08,-0.2],[6.16,0.2],[6.24,-0.2],[6.32,0.2],[6.40,-0.2],[6.48,0.2],[6.56,-0.15],[6.64,0.15],[6.72,-0.15],[6.80,0.15],[6.88,-0.12],[6.96,0.12],[7.0,0]];

const TRACE_GAIN = 640; // metres of offset per unit of trace amplitude
const BOX_GAIN = 0.9;   // trace units per normalised amplitude for the boxed trace
const QUIET = [[0, 0]]; // flat lead-in before the boxed window

// the boxed trace is the enlarged window joined to its head and tail
function boxedTrace(win, tail) {
  return QUIET.concat(win.map(([t, a]) => [t, a * BOX_GAIN]), tail);
}
const fdObs = [fd1, fd2, fd3, fd4, fd5, fd6, fd7, fd8, boxedTrace(obsA, fd9Tail), fd10, fd11, fd12];
const fdInv = [fd1, fd2, fd3, fd4, fd5, fd6, fd7, fd8, boxedTrace(invA, fd9Tail), fd10, fd11, fd12];
const semObs = [sem1, sem2, sem3, sem4, sem5, sem6, sem7, sem8, boxedTrace(obsB, sem9Tail), sem10, sem11, sem12];
const semInv = [sem1, sem2, sem3, sem4, sem5, sem6, sem7, sem8, boxedTrace(invB, sem9Tail), sem10, sem11, sem12];

const OBS_NAME = 'pseudo-observed seismograms';
const INV_NAME = 'inverted seismograms';
const BLUE = '#0000ff';
const RED = '#ff0000';
const AX = '#262626';
const FONT = 'Roboto';
const WIDE_DASH = [10, 8];

const grids = [
  { left: 139, top: 59, width: 403, height: 312 },
  { left: 709, top: 59, width: 403, height: 312 },
  { left: 139, top: 507, width: 403, height: 311 },
  { left: 709, top: 507, width: 403, height: 311 }
];

const plainNumber = v => String(v);

function axisBase(gi, min, max, ticks) {
  return {
    type: 'value', gridIndex: gi, min: min, max: max,
    splitLine: { show: false },
    axisLine: { show: true, onZero: false, lineStyle: { color: AX, width: 1 } },
    axisTick: { show: true, inside: true, length: 5, customValues: ticks, lineStyle: { color: AX, width: 1 } }
  };
}
function xPair(gi, min, max, ticks, name, nameGap, margin) {
  return [
    Object.assign(axisBase(gi, min, max, ticks), {
      position: 'bottom', name: name, nameLocation: 'middle', nameGap: nameGap,
      nameTextStyle: { fontSize: 30, color: AX, fontFamily: FONT },
      axisLabel: { show: true, customValues: ticks, formatter: plainNumber, fontSize: 27, color: AX, fontFamily: FONT, margin: margin }
    }),
    Object.assign(axisBase(gi, min, max, ticks), { position: 'top', axisLabel: { show: false } })
  ];
}
function yPair(gi, min, max, ticks, inverse, name, nameGap, lineHeight) {
  return [
    Object.assign(axisBase(gi, min, max, ticks), {
      position: 'left', inverse: inverse, name: name, nameLocation: 'middle', nameGap: nameGap,
      nameTextStyle: { fontSize: 30, color: AX, fontFamily: FONT, lineHeight: lineHeight },
      axisLabel: { show: true, customValues: ticks, formatter: plainNumber, fontSize: 27, color: AX, fontFamily: FONT, margin: 11 }
    }),
    Object.assign(axisBase(gi, min, max, ticks), { position: 'right', inverse: inverse, axisLabel: { show: false } })
  ];
}

const xAxes = [].concat(
  xPair(0, -4080, 4240, offsetTicks, 'offset in m', 57, 13),
  xPair(1, -4080, 4240, offsetTicks, 'offset in m', 57, 13),
  xPair(2, boxTimes[0], boxTimes[1], zoomTimeTicks, 'time in s', 56, 17),
  xPair(3, boxTimes[0], boxTimes[1], zoomTimeTicks, 'time in s', 56, 17)
);
const yAxes = [].concat(
  yPair(0, 0, 7, timeTicks, true, 'time in s', 30, 34),
  yPair(1, 0, 7, timeTicks, true, 'time in s', 30, 34),
  yPair(2, -1, 1, ampTicks, false, 'normalized\namplitude', 66, 30),
  yPair(3, -1, 1, ampTicks, false, 'normalized\namplitude', 66, 30)
);

const series = [];
// enlarged windows (listed first so the legend uses their line style)
[[obsA, invA, 4], [obsB, invB, 6]].forEach(([obs, inv, ax]) => {
  series.push({
    type: 'line', name: OBS_NAME, xAxisIndex: ax, yAxisIndex: ax, data: obs,
    symbol: 'none', smooth: 0.36, smoothMonotone: 'x', z: 2,
    lineStyle: { color: BLUE, width: 3.6 }, itemStyle: { color: BLUE }
  });
  series.push({
    type: 'line', name: INV_NAME, xAxisIndex: ax, yAxisIndex: ax, data: inv,
    symbol: 'none', smooth: 0.36, smoothMonotone: 'x', z: 3,
    lineStyle: { color: RED, width: 3.4, type: WIDE_DASH }, itemStyle: { color: RED }
  });
});

// wiggle traces of the two gathers
function wiggle(trace, offset) {
  return trace.map(([t, a]) => [offset + a * TRACE_GAIN, t]);
}
[[fdObs, fdInv, 0], [semObs, semInv, 2]].forEach(([obsSet, invSet, ax]) => {
  offsets.forEach((off, k) => {
    series.push({
      type: 'line', name: OBS_NAME, xAxisIndex: ax, yAxisIndex: ax, data: wiggle(obsSet[k], off),
      symbol: 'none', smooth: 0.36, smoothMonotone: 'y', z: 2, silent: true,
      lineStyle: { color: BLUE, width: 1.3 }, itemStyle: { color: BLUE }
    });
    series.push({
      type: 'line', name: INV_NAME, xAxisIndex: ax, yAxisIndex: ax, data: wiggle(invSet[k], off),
      symbol: 'none', smooth: 0.36, smoothMonotone: 'y', z: 3, silent: true,
      lineStyle: { color: RED, width: 1.3, type: [3, 3] }, itemStyle: { color: RED }
    });
  });
  // outline of the enlarged window
  series.push({
    type: 'line', name: 'window', xAxisIndex: ax, yAxisIndex: ax, symbol: 'none', z: 5, silent: true,
    data: [[boxOffsets[0], boxTimes[0]], [boxOffsets[1], boxTimes[0]], [boxOffsets[1], boxTimes[1]],
           [boxOffsets[0], boxTimes[1]], [boxOffsets[0], boxTimes[0]]],
    lineStyle: { color: '#000', width: 1 }
  });
});

const chart = echarts.init(document.getElementById('chart'), null, { renderer: 'canvas' });
chart.setOption({
  animation: false,
  backgroundColor: '#fff',
  textStyle: { fontFamily: FONT },
  title: [
    { text: 'FD data inversion - seismograms', left: 339, top: 14, textAlign: 'center', padding: 0,
      textStyle: { fontSize: 29.5, fontWeight: 'bold', color: '#000', fontFamily: FONT } },
    { text: 'SEM data inversion - seismograms', left: 910, top: 14, textAlign: 'center', padding: 0,
      textStyle: { fontSize: 29.5, fontWeight: 'bold', color: '#000', fontFamily: FONT } }
  ],
  legend: {
    // a 1 px item height shrinks the marker the line icon carries to a dot hidden under the line
    left: 213, top: 941, orient: 'horizontal', padding: [14, 10, 14, 9], itemGap: 10,
    itemWidth: 67, itemHeight: 1, selectedMode: false,
    lineStyle: { width: 3.5 },
    borderColor: AX, borderWidth: 1, borderRadius: 0, backgroundColor: '#fff',
    textStyle: { fontSize: 24.2, color: '#000', fontFamily: FONT },
    data: [
      { name: OBS_NAME },
      { name: INV_NAME, lineStyle: { width: 3.5, type: [14, 11] } }
    ]
  },
  grid: grids,
  xAxis: xAxes,
  yAxis: yAxes,
  series: series
});

// panel letters: beside each window outline and above each enlarged panel
const labels = [];
[[0, '(a)'], [2, '(b)']].forEach(([ax, txt]) => {
  const p = chart.convertToPixel({ xAxisIndex: ax, yAxisIndex: ax }, [boxOffsets[1], boxTimes[0]]);
  labels.push({ type: 'text', x: p[0] + 2, y: p[1] + 3, z: 10,
    style: { text: txt, fontSize: 20, fill: '#000', fontFamily: FONT, verticalAlign: 'middle', align: 'left' } });
});
[[4, '(a)'], [6, '(b)']].forEach(([ax, txt]) => {
  const p = chart.convertToPixel({ xAxisIndex: ax, yAxisIndex: ax }, [boxTimes[0], 1]);
  labels.push({ type: 'text', x: p[0] - 61, y: p[1] - 44, z: 10,
    style: { text: txt, fontSize: 30, fill: '#000', fontFamily: FONT, verticalAlign: 'middle', align: 'left' } });
});
chart.setOption({ graphic: labels });
</script>
</body>
</html>
